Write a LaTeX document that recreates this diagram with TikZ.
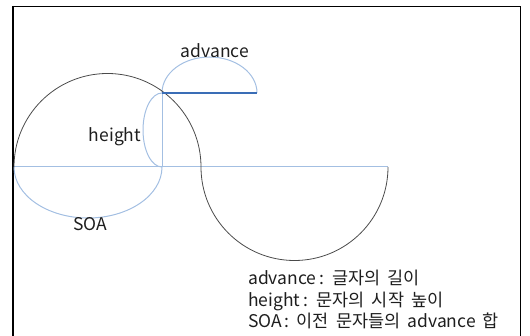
\documentclass[tikz,border=0pt]{standalone}
\usepackage{fontspec}
\setmainfont{Noto Sans CJK KR}[WordSpace=1.8]
\usepackage{tikz}
\usetikzlibrary{positioning}
\definecolor{ArcBlue}{HTML}{A3BFE2}
\definecolor{BarBlue}{HTML}{3A6DB6}
\definecolor{CurveGray}{HTML}{4A4A4A}
\definecolor{TextDark}{HTML}{1E1E1E}

\begin{document}
\begin{tikzpicture}[x=1pt, y=-1pt, font=\fontsize{17.5}{21.5}\selectfont, text=TextDark]
    \useasboundingbox (0,0) rectangle (530,336);
    \coordinate (origin) at (14,167);
    \coordinate (corner) at (162,93);
    \coordinate (foot) at (162,167);
    \coordinate (tail) at (388,167);
    \coordinate (barend) at (257,93);

    \draw[line width=2pt, black] (13,6) -- (13,336);
    \draw[line width=0.6pt, black] (13,6) -- (520,6) -- (520,336);

    \draw[ArcBlue, line width=1pt] (origin) -- (tail);
    \draw[ArcBlue, line width=1pt] (origin) arc[start angle=180, end angle=0, x radius=74, y radius=51];
    \draw[ArcBlue, line width=1pt] (foot) -- (corner);
    \draw[ArcBlue, line width=1pt] (foot) arc[start angle=90, end angle=270, x radius=19, y radius=37];
    \draw[ArcBlue, line width=1pt] (corner) arc[start angle=180, end angle=360, x radius=47.5, y radius=36];
    \draw[CurveGray, line width=0.8pt] (origin) arc[start angle=180, end angle=360, radius=93.5] arc[start angle=180, end angle=0, radius=93.5];
    \draw[BarBlue, line width=1.8pt] (corner) -- (barend);

    \node (advlabel) at (215,51) {advance};
    \node (hlabel) at (115,137) {height};
    \node (soalabel) at (90,224) {SOA};
    \node[anchor=north west, align=left, inner sep=0pt] (legend) at (248,270) {advance\,: 글자의 길이\\height\,: 문자의 시작 높이\\SOA\,: 이전 문자들의 advance 합};
\end{tikzpicture}
\end{document}
